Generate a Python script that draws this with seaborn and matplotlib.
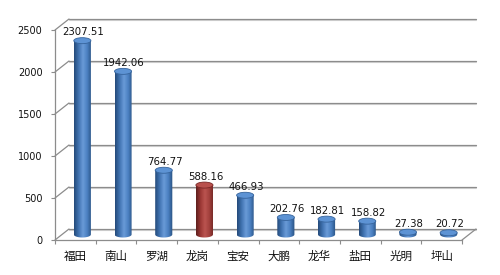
import numpy as np
import matplotlib
matplotlib.use('Agg')
import matplotlib.pyplot as plt
import seaborn as sns
import pandas as pd
from matplotlib import transforms
from matplotlib.patches import Ellipse, PathPatch
from matplotlib.path import Path
from matplotlib.colors import LinearSegmentedColormap

districts = ['福田', '南山', '罗湖', '龙岗', '宝安', '大鹏', '龙华', '盐田', '光明', '坪山']
values = [2307.51, 1942.06, 764.77, 588.16, 466.93, 202.76, 182.81, 158.82, 27.38, 20.72]
value_labels = ['2307.51', '1942.06', '764.77', '588.16', '466.93', '202.76', '182.81', '158.82', '27.38', '20.72']
y_ticks = [0, 500, 1000, 1500, 2000, 2500]
highlight = '龙岗'

sns.set_theme(style='white')
plt.rcParams['font.family'] = ['DejaVu Sans', 'Noto Sans CJK SC']

W, H = 500, 275
fig = plt.figure(figsize=(5, 2.75), dpi=100)
ax_l, ax_b, ax_w, ax_h = 55 / W, (H - 240) / H, 407 / W, 210 / H
ax = fig.add_axes([ax_l, ax_b, ax_w, ax_h])

df = pd.DataFrame({'district': districts, 'value': values})
base_col = {d: ('#9b3a37' if d == highlight else '#4a7ebb') for d in districts}
sns.barplot(data=df, x='district', y='value', hue='district', palette=base_col,
            width=0.42, legend=False, ax=ax, saturation=1)
ax.set_xlim(-0.5, len(districts) - 0.5)
ax.set_ylim(0, y_ticks[-1])

px_per_cat = ax_w * W / len(districts)
px_per_unit = ax_h * H / y_ticks[-1]

# depth offsets (pixels)
back_dx, back_dy = 14, 11
bar_dx, bar_dy = 7, 5.5
trans_back = transforms.offset_copy(ax.transData, fig=fig, x=back_dx, y=back_dy, units='dots')
trans_bar = transforms.offset_copy(ax.transData, fig=fig, x=bar_dx, y=bar_dy, units='dots')
ddx = back_dx / px_per_cat
ddy = back_dy / px_per_unit

grid_col = '#8c8c8c'
# back wall gridlines + left wall diagonals
for t in y_ticks:
    ax.plot([-0.5, len(districts) - 0.5], [t, t], transform=trans_back, color=grid_col,
            lw=0.9, clip_on=False, zorder=0.5)
    ax.plot([-0.5, len(districts) - 0.5], [t, t], transform=transforms.offset_copy(
        trans_back, fig=fig, x=0, y=-1, units='dots'), color='#d4d4d4', lw=0.8,
            clip_on=False, zorder=0.4)
    ax.plot([-0.5, -0.5 + ddx], [t, t + ddy], color=grid_col, lw=0.9, clip_on=False, zorder=0.5)
# floor right edge
ax.plot([len(districts) - 0.5, len(districts) - 0.5 + ddx], [0, ddy], color=grid_col,
        lw=0.9, clip_on=False, zorder=0.5)

# cylinder shading
def make_cmap(c):
    if c == '#9b3a37':
        cols = ['#5e1f1d', '#9c3835', '#bb5450', '#a2403c', '#6e2523']
    else:
        cols = ['#244a7a', '#3f72b0', '#6a9bd8', '#4a7fc0', '#28507f']
    return LinearSegmentedColormap.from_list('cyl', cols)

eh_px = 6.0
eh = eh_px / px_per_unit
grad = np.linspace(0, 1, 64).reshape(1, -1)
for p in list(ax.patches):
    x0 = p.get_x()
    w = p.get_width()
    h = p.get_height()
    xc = x0 + w / 2
    i = int(round(xc))
    c = base_col[districts[i]]
    p.set_visible(False)
    # body path: rectangle with elliptical bottom
    th = np.linspace(np.pi, 2 * np.pi, 30)
    bx = xc + (w / 2) * np.cos(th)
    by = 0 + (eh / 2) * np.sin(th)
    verts = [(x0, h)] + list(zip(bx, by)) + [(x0 + w, h), (x0, h)]
    codes = [Path.MOVETO] + [Path.LINETO] * (len(verts) - 2) + [Path.CLOSEPOLY]
    body = PathPatch(Path(verts, codes), transform=trans_bar, facecolor='none',
                     edgecolor='none', clip_on=False)
    ax.add_patch(body)
    im = ax.imshow(grad, cmap=make_cmap(c), aspect='auto', extent=(x0, x0 + w, -eh, h),
                   transform=trans_bar, zorder=2, interpolation='bilinear')
    im.set_clip_path(body)
    cap_fc = '#b9514d' if c == '#9b3a37' else '#5d93d4'
    cap_ec = '#7a2826' if c == '#9b3a37' else '#36649c'
    ax.add_patch(Ellipse((xc, h), w, eh, transform=trans_bar, facecolor=cap_fc,
                         edgecolor=cap_ec, lw=0.6, zorder=3, clip_on=False))

ax.set_xlim(-0.5, len(districts) - 0.5)
ax.set_ylim(0, y_ticks[-1])

# value labels
for i, (v, lab) in enumerate(zip(values, value_labels)):
    ax.annotate(lab, xy=(i, v), xytext=(bar_dx + 1, bar_dy + eh_px / 2 + 2.5),
                textcoords='offset pixels', ha='center', va='baseline',
                fontsize=7.3, color='#111111', zorder=5,
                family=['DejaVu Sans'])

# axes styling
for s in ['top', 'right']:
    ax.spines[s].set_visible(False)
for s in ['left', 'bottom']:
    ax.spines[s].set_color(grid_col)
    ax.spines[s].set_linewidth(0.9)
ax.set_yticks(y_ticks)
ax.set_yticklabels([str(t) for t in y_ticks], fontsize=7.0, color='#111111')
ax.set_xticks(range(len(districts)))
ax.set_xticklabels(districts, fontsize=8.3, color='#111111',
                   family=['Noto Sans CJK SC', 'DejaVu Sans'])
ax.set_xticks(np.arange(-0.5, len(districts)), minor=True)
ax.tick_params(axis='y', length=3, width=0.8, color=grid_col, pad=6, left=True)
ax.tick_params(axis='x', which='major', length=0, pad=7)
ax.tick_params(axis='x', which='minor', length=3, width=0.8, color=grid_col, bottom=True)
ax.set_xlabel('')
ax.set_ylabel('')
ax.patch.set_alpha(0)

fig.savefig('out.png', dpi=100)
